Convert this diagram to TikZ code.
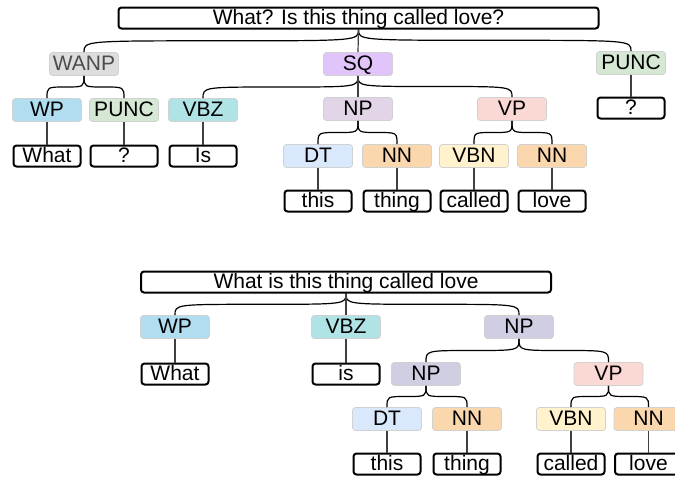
\documentclass[tikz,border=0pt]{standalone}
\usepackage{fontspec}
\setmainfont{Liberation Sans}
\usetikzlibrary{calc}

\definecolor{wanpgray}{HTML}{DDDDDD}
\definecolor{sqpurple}{HTML}{E0C4FA}
\definecolor{puncgreen}{HTML}{D5E8D4}
\definecolor{wpblue}{HTML}{B1DDF0}
\definecolor{vbzteal}{HTML}{B0E3E6}
\definecolor{nppurple}{HTML}{E1D5E7}
\definecolor{vppink}{HTML}{FAD9D5}
\definecolor{dtblue}{HTML}{DAE8FC}
\definecolor{nnorange}{HTML}{FAD7AC}
\definecolor{vbnyellow}{HTML}{FFF2CC}
\definecolor{npslate}{HTML}{D0CEE2}

\tikzset{
  tag/.style = {rectangle, rounded corners = 1.5pt, draw = black!18,
    line width = .4pt, minimum width = 34.5pt, minimum height = 11.5pt,
    inner sep = 0pt, text height = 7.7pt, text depth = 1.5pt,
    font = \fontsize{10.5}{12}\selectfont},
  word/.style = {rectangle, rounded corners = 1.5pt, draw = black,
    line width = 1pt, fill = white, minimum width = 33.5pt,
    minimum height = 10.5pt, inner sep = 0pt, text height = 7.7pt,
    text depth = 1.5pt, font = \fontsize{10.5}{12}\selectfont},
  branch/.style = {line width = .6pt},
  stem/.style = {line width = .6pt, black!75}
}

\begin{document}
\begin{tikzpicture}[x = .5pt, y = -.5pt]
  \useasboundingbox (0, 0) rectangle (675, 478);

  % first tree
  \node[word, minimum width = 240pt] (rootA) at (358.5, 18)
  {What? Is this thing called love?};

  \node[tag, fill = wanpgray, text = black!70] (wanpA) at (84, 64) {WANP};
  \node[tag, fill = sqpurple] (sqA) at (358, 64) {SQ};
  \node[tag, fill = puncgreen] (puncA) at (631, 63) {PUNC};

  \node[tag, fill = wpblue] (wpA) at (47, 110) {WP};
  \node[tag, fill = puncgreen] (puncB) at (124, 110) {PUNC};
  \node[tag, fill = vbzteal] (vbzA) at (203, 110) {VBZ};
  \node[tag, fill = nppurple] (npA) at (358, 109) {NP};
  \node[tag, fill = vppink] (vpA) at (512, 109) {VP};
  \node[word] (qA) at (631, 108) {?};

  \node[word] (whatA) at (47, 156) {What};
  \node[word] (qB) at (124, 156) {?};
  \node[word] (isA) at (203, 156) {Is};
  \node[tag, fill = dtblue] (dtA) at (318, 156) {DT};
  \node[tag, fill = nnorange] (nnA) at (397, 156) {NN};
  \node[tag, fill = vbnyellow] (vbnA) at (474, 156) {VBN};
  \node[tag, fill = nnorange] (nnB) at (552, 156) {NN};

  \node[word] (thisA) at (318, 201) {this};
  \node[word] (thingA) at (397, 201) {thing};
  \node[word] (calledA) at (474, 201) {called};
  \node[word] (loveA) at (552, 201) {love};

  % second tree
  \node[word, minimum width = 205pt] (rootB) at (346, 282)
  {What is this thing called love};

  \node[tag, fill = wpblue] (wpB) at (175, 327) {WP};
  \node[tag, fill = vbzteal] (vbzB) at (346, 327) {VBZ};
  \node[tag, fill = npslate] (npB) at (519, 327) {NP};

  \node[word] (whatB) at (175, 374) {What};
  \node[word] (isB) at (346, 374) {is};
  \node[tag, fill = npslate] (npC) at (426, 374) {NP};
  \node[tag, fill = vppink] (vpB) at (608.5, 374) {VP};

  \node[tag, fill = dtblue] (dtB) at (387, 419) {DT};
  \node[tag, fill = nnorange] (nnC) at (467, 419) {NN};
  \node[tag, fill = vbnyellow] (vbnB) at (571, 419) {VBN};
  \node[tag, fill = nnorange] (nnD) at (648.5, 419) {NN};

  \node[word] (thisB) at (387, 464) {this};
  \node[word] (thingB) at (467, 464) {thing};
  \node[word] (calledB) at (571, 464) {called};
  \node[word] (loveB) at (648.5, 464) {love};

  % curved branches
  \foreach \p/\c in {rootA/wanpA, rootA/puncA, wanpA/wpA, wanpA/puncB,
    sqA/vbzA, sqA/vpA, npA/dtA, npA/nnA, vpA/vbnA, vpA/nnB,
    rootB/wpB, rootB/npB, npB/npC, npB/vpB, npC/dtB, npC/nnC,
    vpB/vbnB, vpB/nnD}
  \draw[branch] ($(\p.south)!.5!(\c.north)$) coordinate (m)
    (\p.south) .. controls (\p.south |- m) .. (m)
    .. controls (\c.north |- m) .. (\c.north);

  % straight stems
  \foreach \p/\c in {rootA/sqA, sqA/npA, puncA/qA, wpA/whatA, puncB/qB,
    vbzA/isA, dtA/thisA, nnA/thingA, vbnA/calledA, nnB/loveA,
    rootB/vbzB, wpB/whatB, vbzB/isB, dtB/thisB, nnC/thingB,
    vbnB/calledB, nnD/loveB}
  \draw[stem] (\p.south) -- (\c.north);
\end{tikzpicture}
\end{document}
